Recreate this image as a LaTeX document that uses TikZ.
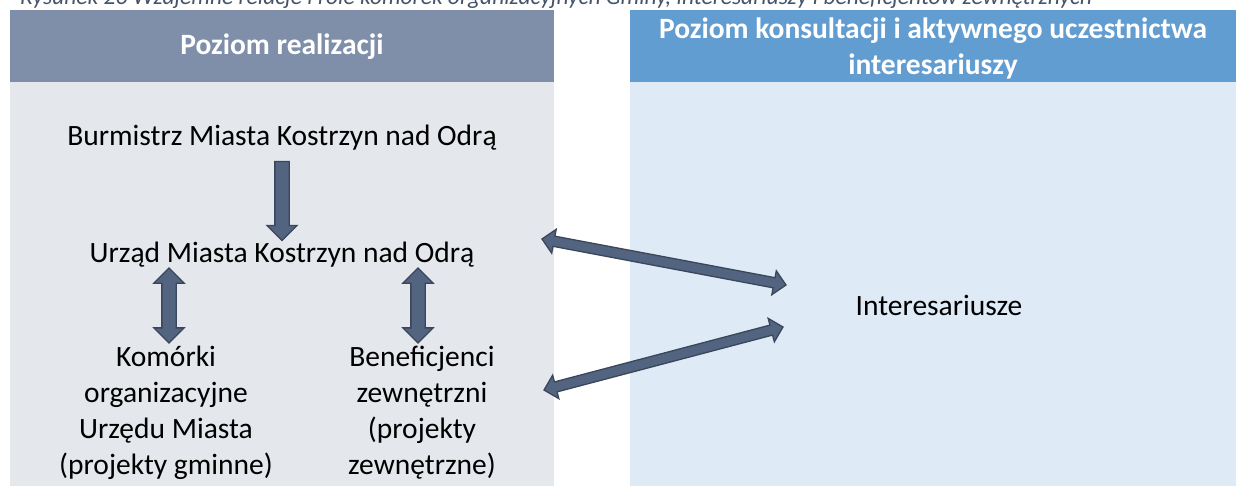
\documentclass[tikz,border=0pt]{standalone}
\usepackage{fontspec}
\setmainfont{Carlito}
\usepackage{tikz}
\usetikzlibrary{calc,shapes.arrows}
\definecolor{realhead}{RGB}{127,143,169}
\definecolor{realbody}{RGB}{228,231,236}
\definecolor{konshead}{RGB}{98,157,209}
\definecolor{konsbody}{RGB}{222,234,245}
\definecolor{arrfill}{RGB}{83,100,129}
\definecolor{arrline}{RGB}{58,70,90}
\definecolor{captext}{RGB}{68,84,106}

% block arrow laid from one named point to another
\newcommand{\blockarrow}[3]{%
  \path let \p1=($(#3)-(#2)$), \n1={veclen(\x1,\y1)}, \n2={atan2(\y1,\x1)} in
    node[#1, minimum height=\n1, rotate=\n2] at ($(#2)!0.5!(#3)$) {};}

\begin{document}
\begin{tikzpicture}[x=1pt, y=-1pt,
    every node/.style={font=\fontsize{29.5}{36}\selectfont, inner sep=0pt},
    head/.style={text=white, font=\fontsize{29.5}{36}\selectfont\bfseries, align=center},
    label/.style={align=center},
    caption/.style={text=captext, font=\fontsize{23.5}{26}\selectfont\itshape},
    sarrow/.style={single arrow, draw=arrline, fill=arrfill, line width=1.3pt,
      inner xsep=0pt, inner ysep=6.5pt, single arrow head extend=8pt},
    darrow/.style={double arrow, draw=arrline, fill=arrfill, line width=1.3pt,
      inner xsep=0pt, inner ysep=6.5pt, double arrow head extend=8pt},
    slant/.style={inner ysep=4.5pt, double arrow head extend=7pt}]
  \useasboundingbox (0,0) rectangle (1236,486);
  \clip (0,0) rectangle (1236,486);
  \node[caption, anchor=base west] (cap) at (20,5)
    {Rysunek 26 Wzajemne relacje i role komórek organizacyjnych Gminy, interesariuszy i beneficjentów zewnętrznych};
  % panels
  \fill[realhead] (10,10) rectangle (554,82);
  \fill[realbody] (10,82) rectangle (554,486);
  \fill[konshead] (630,10) rectangle (1236,82);
  \fill[konsbody] (630,82) rectangle (1236,486);
  \node[head] (realiz) at (282,47) {Poziom realizacji};
  \node[head] (konsult) at (933,48) {Poziom konsultacji i aktywnego uczestnictwa\\interesariuszy};
  % texts
  \node (burm) at (282,138) {Burmistrz Miasta Kostrzyn nad Odrą};
  \node (urzad) at (282,255) {Urząd Miasta Kostrzyn nad Odrą};
  \node[label] (komorki) at (166,413) {Komórki\\organizacyjne\\Urzędu Miasta\\(projekty gminne)};
  \node[label] (benef) at (422,413) {Beneficjenci\\zewnętrzni\\(projekty\\zewnętrzne)};
  \node (inter) at (939,305) {Interesariusze};
  % arrow ends
  \coordinate (burm-s) at (burm.south |- 0,158);
  \coordinate (urzad-n) at (burm.south |- 0,237);
  \coordinate (kom-n) at (169,268);
  \coordinate (kom-u) at (169,343);
  \coordinate (ben-n) at (418,268);
  \coordinate (ben-u) at (418,343);
  \coordinate (urzad-e) at (542,239);
  \coordinate (benef-e) at (544,390);
  \coordinate (inter-a) at (786,285);
  \coordinate (inter-b) at (783,327);
  \blockarrow{sarrow}{burm-s}{urzad-n}
  \blockarrow{darrow}{kom-n}{kom-u}
  \blockarrow{darrow}{ben-n}{ben-u}
  \blockarrow{darrow,slant}{urzad-e}{inter-a}
  \blockarrow{darrow,slant}{benef-e}{inter-b}
\end{tikzpicture}
\end{document}
